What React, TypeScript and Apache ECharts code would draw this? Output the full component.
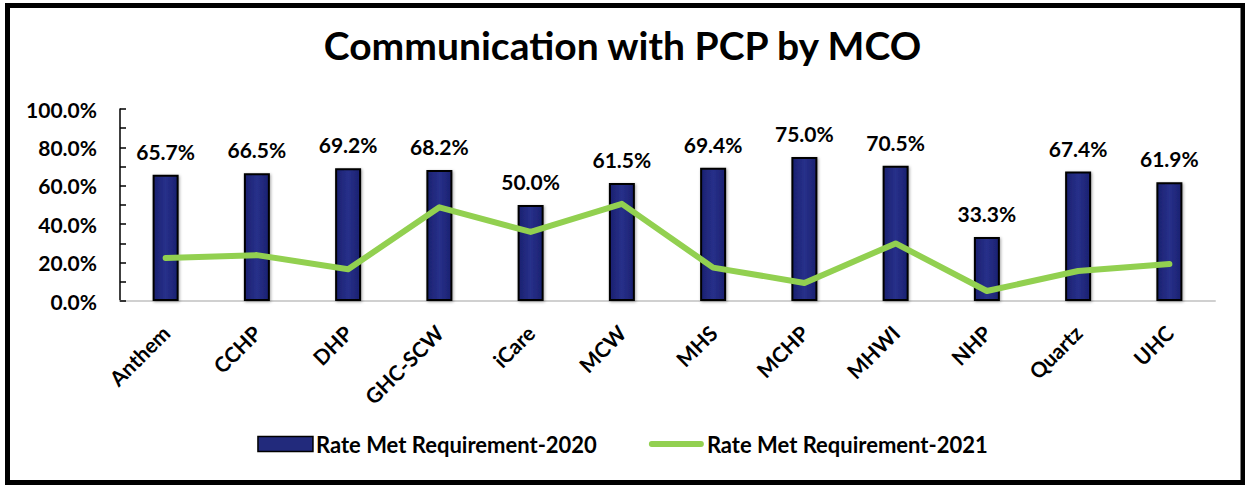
import React, { useEffect, useRef } from "react";
import * as echarts from "echarts";

const categories = ["Anthem", "CCHP", "DHP", "GHC-SCW", "iCare", "MCW", "MHS", "MCHP", "MHWI", "NHP", "Quartz", "UHC"];
const rate2020 = [65.7, 66.5, 69.2, 68.2, 50.0, 61.5, 69.4, 75.0, 70.5, 33.3, 67.4, 61.9];
const rate2021 = [22.4, 23.9, 16.5, 48.8, 36.0, 50.6, 17.4, 9.4, 30.0, 5.2, 15.6, 19.3];
const seriesNames = ["Rate Met Requirement-2020", "Rate Met Requirement-2021"];
const titleText = "Communication with PCP by MCO";

const FONT = "Lato";
const LINE_ICON = "path://M3,0 L54,0 A3,3 0 0 1 54,6 L3,6 A3,3 0 0 1 3,0 Z";

export default function App() {
  const ref = useRef<HTMLDivElement>(null);
  useEffect(() => {
    if (!ref.current) return;
    const chart = echarts.init(ref.current, undefined, { renderer: "svg" });
    chart.setOption({
      animation: false,
      backgroundColor: "#ffffff",
      title: {
        text: titleText,
        left: "center",
        top: 20,
        textStyle: { fontFamily: FONT, fontWeight: "bold", fontSize: 39, color: "#000" },
      },
      graphic: [
        {
          type: "rect",
          shape: { x: 7.5, y: 5.5, width: 1235.5, height: 477 },
          style: { fill: "none", stroke: "#000", lineWidth: 5 },
          z: 100,
        },
      ],
      legend: {
        bottom: 25,
        left: "center",
        itemGap: 52,
        itemWidth: 55,
        itemHeight: 15,
        textStyle: { fontFamily: FONT, fontWeight: "bold", fontSize: 22, color: "#000", padding: [0, 0, 0, -2] },
        data: [
          { name: seriesNames[0], icon: "rect", itemStyle: { color: "#222a7c", borderColor: "#000", borderWidth: 1.5 } },
          { name: seriesNames[1], icon: LINE_ICON, itemStyle: { color: "#92d050" } },
        ],
      },
      grid: { left: 120, right: 30, top: 109, bottom: 184 },
      xAxis: {
        type: "category",
        data: categories,
        axisLine: { lineStyle: { color: "#d0d0d0", width: 2 } },
        axisTick: { show: false },
        axisLabel: {
          rotate: 45,
          margin: 28,
          fontFamily: FONT,
          fontWeight: "bold",
          fontSize: 21,
          color: "#000",
        },
      },
      yAxis: {
        type: "value",
        min: 0,
        max: 100,
        interval: 20,
        axisLine: { show: true, lineStyle: { color: "#000", width: 1.5 } },
        axisTick: { show: true, inside: true, length: 6, lineStyle: { color: "#000", width: 1.5 } },
        minorTick: { show: true, splitNumber: 2, length: 6, lineStyle: { color: "#000", width: 1.5 } },
        splitLine: { show: false },
        axisLabel: {
          margin: 23,
          formatter: (v: number) => v.toFixed(1) + "%",
          fontFamily: FONT,
          fontWeight: "bold",
          fontSize: 21,
          color: "#000",
        },
      },
      series: [
        {
          name: seriesNames[0],
          type: "bar",
          data: rate2020,
          barWidth: 26,
          itemStyle: {
            color: new echarts.graphic.LinearGradient(0, 0, 1, 0, [
              { offset: 0, color: "#1b2170" },
              { offset: 0.5, color: "#27308a" },
              { offset: 1, color: "#1b2170" },
            ]),
            borderColor: "#000",
            borderWidth: 2,
            shadowColor: "rgba(0,0,0,0.35)",
            shadowBlur: 3,
            shadowOffsetX: 1,
            shadowOffsetY: 1,
          },
          label: {
            show: true,
            position: "top",
            distance: 13,
            formatter: (p: any) => p.value.toFixed(1) + "%",
            fontFamily: FONT,
            fontWeight: "bold",
            fontSize: 21,
            color: "#000",
          },
        },
        {
          name: seriesNames[1],
          type: "line",
          data: rate2021,
          symbol: "none",
          lineStyle: { color: "#92d050", width: 6, cap: "round", join: "round" },
          itemStyle: { color: "#92d050" },
          z: 5,
        },
      ],
    });
    return () => chart.dispose();
  }, []);
  return <div ref={ref} style={{ position: "absolute", left: 0, top: 0, width: 1245, height: 485 }} />;
}
